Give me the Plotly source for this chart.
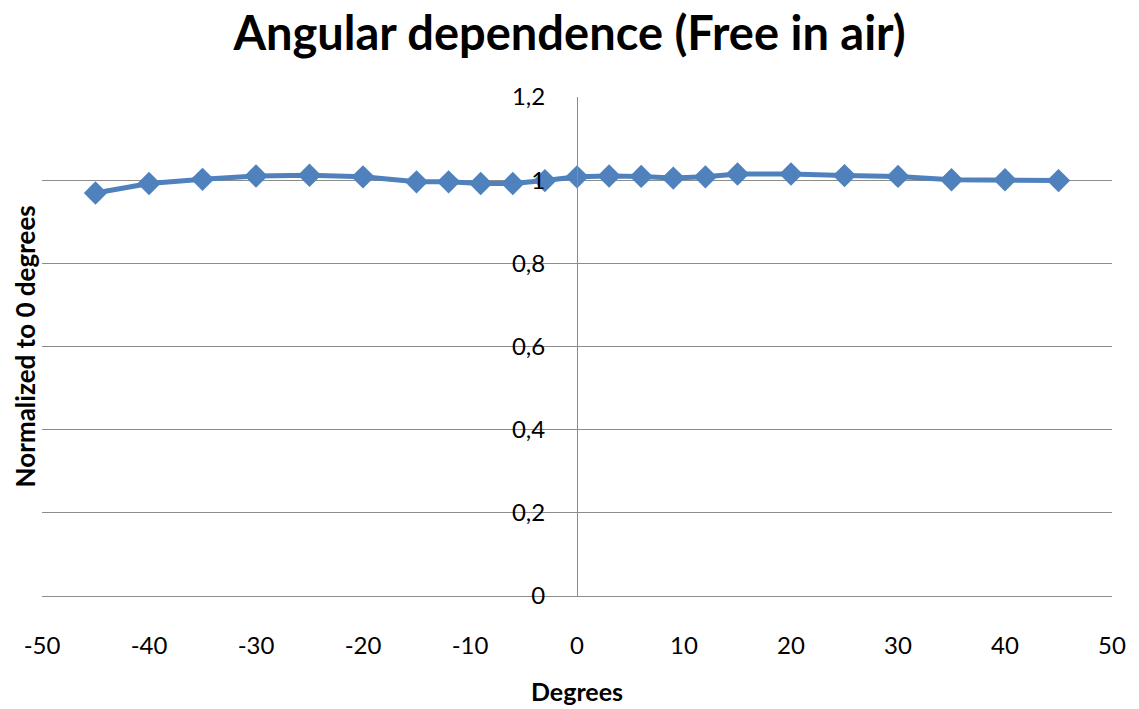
import plotly.graph_objects as go

degrees = [-45, -40, -35, -30, -25, -20, -15, -12, -9, -6, -3, 0,
           3, 6, 9, 12, 15, 20, 25, 30, 35, 40, 45]
normalized = [0.969, 0.992, 1.002, 1.010, 1.012, 1.008, 0.996, 0.996, 0.992, 0.992, 0.999, 1.008,
              1.010, 1.009, 1.005, 1.008, 1.015, 1.015, 1.011, 1.009, 1.001, 1.001, 0.999]

x_ticks = [-50, -40, -30, -20, -10, 0, 10, 20, 30, 40, 50]
x_tick_labels = ["-50", "-40", "-30", "-20", "-10", "0", "10", "20", "30", "40", "50"]
y_ticks = [0, 0.2, 0.4, 0.6, 0.8, 1, 1.2]
y_tick_labels = ["0", "0,2", "0,4", "0,6", "0,8", "1", "1,2"]

FONT = "Lato"
GRID = "#8c8c8c"
BLUE = "#4F81BD"

fig = go.Figure()
fig.add_trace(go.Scatter(
    x=degrees, y=normalized, mode="lines+markers",
    line=dict(color=BLUE, width=5),
    marker=dict(symbol="diamond", size=18, color=BLUE),
    showlegend=False,
))

fig.update_layout(
    width=1139, height=709,
    margin=dict(l=42, r=27, t=97, b=113),
    paper_bgcolor="white", plot_bgcolor="white",
    font=dict(family=FONT, color="black", size=24),
    title=dict(text="<b>Angular dependence (Free in air)</b>",
               x=0.5, xanchor="center", y=0.952, yanchor="middle",
               font=dict(family=FONT, size=47, color="black")),
    xaxis=dict(
        range=[-50, 50], tickvals=x_ticks, ticktext=x_tick_labels,
        showgrid=False, zeroline=False,
        showline=False, ticks="", ticklabelstandoff=33,
        tickfont=dict(size=24, family=FONT),
    ),
    yaxis=dict(
        range=[0, 1.2], tickvals=y_ticks, ticktext=y_tick_labels,
        showgrid=True, gridcolor=GRID, gridwidth=1,
        zeroline=True, zerolinecolor=GRID, zerolinewidth=1,
        showline=True, linecolor=GRID, linewidth=1,
        anchor="free", position=0.5, ticks="", ticklabelstandoff=27,
        tickfont=dict(size=24, family=FONT),
    ),
)

fig.add_annotation(
    text="<b>Normalized to 0 degrees</b>", textangle=-90,
    xref="paper", yref="paper", x=-0.016, y=0.5, xanchor="center", yanchor="middle",
    showarrow=False, font=dict(size=26, family=FONT, color="black"),
)
fig.add_annotation(
    text="<b>Degrees</b>",
    xref="paper", yref="paper", x=0.5, y=-0.19, xanchor="center", yanchor="middle",
    showarrow=False, font=dict(size=25, family=FONT, color="black"),
)

fig.write_html("out.html")
